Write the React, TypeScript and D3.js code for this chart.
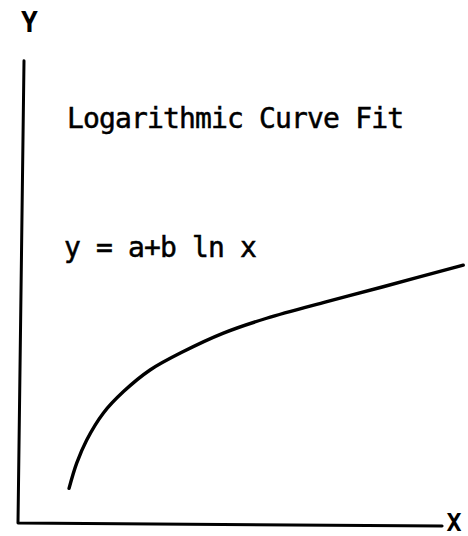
import React from "react";
import * as d3 from "d3";

// Points along the fitted curve y = a + b ln x (arbitrary units, 0–100 on each axis)
const curveX = [10.9, 12.6, 14.8, 18.5, 23.0, 28.9, 36.3, 45.2, 54.8, 68.2, 80.7, 98.5];
const curveY = [7.7, 13.3, 18.4, 24.4, 29.2, 34.0, 38.1, 42.2, 45.5, 49.2, 52.5, 57.3];

const titleText = "Logarithmic Curve Fit";
const equationText = "y = a+b ln x";
const xAxisLabel = "X";
const yAxisLabel = "Y";

const W = 468;
const H = 536;
const FONT = "'DejaVu Sans Mono', monospace";

export default function App() {
  const xScale = d3.scaleLinear().domain([0, 100]).range([20, 470]);
  const yScale = d3.scaleLinear().domain([0, 100]).range([523, 73]);

  const pts: [number, number][] = curveX.map((x, i) => [x, curveY[i]]);
  const line = d3
    .line<[number, number]>()
    .x((d) => xScale(d[0]))
    .y((d) => yScale(d[1]))
    .curve(d3.curveCatmullRom.alpha(0.5));

  const x0 = xScale(0) + 1;
  const y0 = yScale(0);
  const yTop = yScale(102.7);
  const xEnd = xScale(93.8);

  return (
    <svg
      width={W}
      height={H}
      viewBox={`0 0 ${W} ${H}`}
      style={{ position: "absolute", left: 0, top: 0, background: "#fff" }}
    >
      {/* axes */}
      <path
        d={`M${x0 + 3},${yTop} L${x0 - 3},${y0} L${xEnd},${y0 + 3}`}
        fill="none"
        stroke="#000"
        strokeWidth={3}
        strokeLinecap="round"
        strokeLinejoin="round"
      />
      <text x={29.5} y={32} textAnchor="middle" fontFamily={FONT} fontSize={28} fontWeight="bold" fill="#000">
        {yAxisLabel}
      </text>
      <text x={454} y={531} textAnchor="middle" fontFamily={FONT} fontSize={25} fontWeight="bold" fill="#000">
        {xAxisLabel}
      </text>

      {/* annotations */}
      <text x={67} y={128} fontFamily={FONT} fontSize={28} letterSpacing={-0.85} fill="#000" stroke="#000" strokeWidth={0.5}>
        {titleText}
      </text>
      <text x={64} y={257} fontFamily={FONT} fontSize={28} letterSpacing={-0.85} fill="#000" stroke="#000" strokeWidth={0.5}>
        {equationText}
      </text>

      {/* fitted curve */}
      <path d={line(pts) ?? ""} fill="none" stroke="#000" strokeWidth={3.4} strokeLinecap="round" />
    </svg>
  );
}
